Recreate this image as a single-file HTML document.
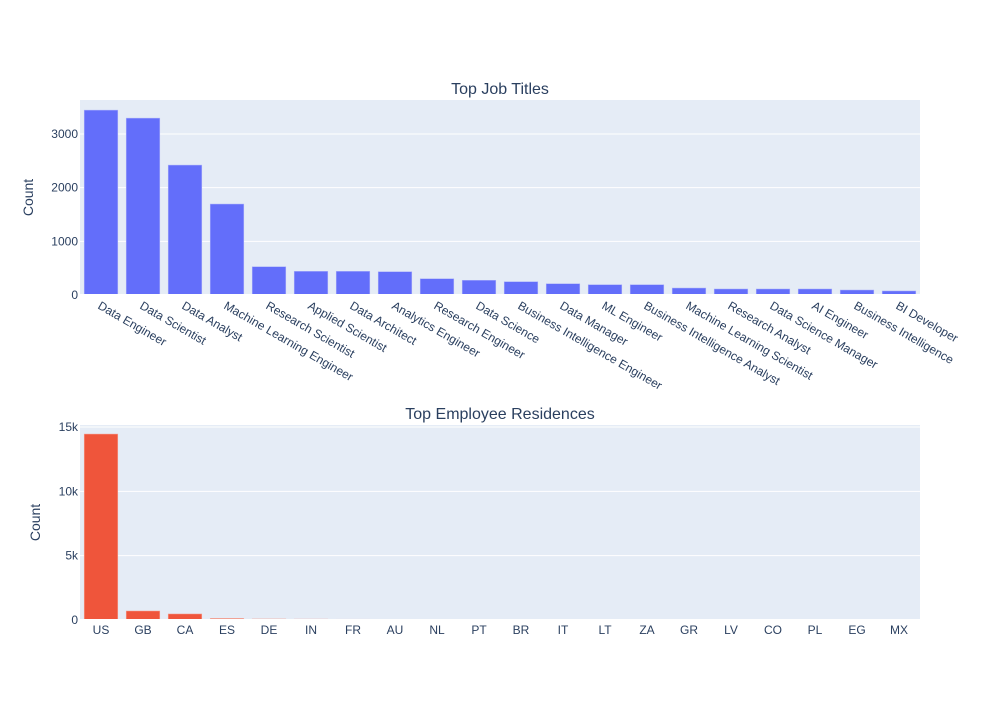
<!DOCTYPE html>
<html><head><meta charset="utf-8"><style>
body{margin:0;background:#fff;font-family:"Liberation Sans",Arial,sans-serif}
svg text{font-family:"Liberation Sans",Arial,sans-serif}
</style></head><body>
<svg id="c" width="1000" height="700" xmlns="http://www.w3.org/2000/svg"></svg>
<script>
const jobTitles=["Data Engineer","Data Scientist","Data Analyst","Machine Learning Engineer","Research Scientist","Applied Scientist","Data Architect","Analytics Engineer","Research Engineer","Data Science","Business Intelligence Engineer","Data Manager","ML Engineer","Business Intelligence Analyst","Machine Learning Scientist","Research Analyst","Data Science Manager","AI Engineer","Business Intelligence","BI Developer"];
const jobCounts=[3445,3296,2421,1695,527,441,441,434,303,274,248,210,192,192,130,112,112,112,93,75];
const jobTicks=[0,1000,2000,3000];
const countries=["US","GB","CA","ES","DE","IN","FR","AU","NL","PT","BR","IT","LT","ZA","GR","LV","CO","PL","EG","MX"];
const countryCounts=[14453,700,470,117,80,70,60,55,50,45,40,35,30,28,25,22,20,18,15,12];
const countryTicks=[0,5000,10000,15000];
const countryTickLabels=["0","5k","10k","15k"];

const svg=document.getElementById('c');
const NS="http://www.w3.org/2000/svg";
function mk(tag,attrs,parent){const e=document.createElementNS(NS,tag);for(const k in attrs)e.setAttribute(k,attrs[k]);(parent||svg).appendChild(e);return e;}

function panel(o){
  const g=mk('g',{});
  
  
  const bg=mk('rect',{x:o.x0,y:o.y0,width:o.x1-o.x0,height:o.y1-o.y0,fill:'#e5ecf6'},g);
  
  
  const yS=v=>o.yZero-(v/o.yMax)*(o.yZero-o.yTop);
  o.ticks.forEach((t,i)=>{
    const y=yS(t);
    if(t>0){const l=mk('line',{x1:o.x0,x2:o.x1,y1:y,y2:y,stroke:'#fff','stroke-width':1},g);
      
      }
    const tx=mk('text',{x:o.x0-2,y:y+4,'text-anchor':'end','font-size':12,fill:'#2a3f5f'},g);
    tx.textContent=o.tickLabels[i];
    
    
  });
  const slot=(o.x1-o.x0)/o.cats.length;
  o.vals.forEach((v,i)=>{
    const x=o.x0+slot*i+slot*0.1;
    const y=yS(v);
    const r=mk('rect',{x:x,y:y,width:slot*0.8,height:Math.max(0,o.yZero-y),fill:o.color,stroke:o.stroke,'stroke-width':0.5},g);
    
    
    const cx=o.x0+slot*(i+0.5);
    const lab=mk('text',{'font-size':12,fill:'#2a3f5f'},g);
    lab.textContent=o.cats[i];
    if(o.rotate){lab.setAttribute('transform','translate('+(cx-4)+','+(o.yZero+13)+') rotate(30)');}
    else{lab.setAttribute('x',cx);lab.setAttribute('y',o.yZero+14);lab.setAttribute('text-anchor','middle');}
    
    
  });
  const zl=mk('line',{x1:o.x0,x2:o.x1,y1:o.yZero,y2:o.yZero,stroke:'#fff','stroke-width':2},g);
  
  
  const ti=mk('text',{x:(o.x0+o.x1)/2,y:o.y0-6,'text-anchor':'middle','font-size':16,fill:'#2a3f5f'},g);
  ti.textContent=o.title;
  
  
  const yt=mk('text',{'text-anchor':'middle','font-size':14,fill:'#2a3f5f',transform:'translate('+o.yTitleX+','+((o.y0+o.y1)/2)+') rotate(-90)'},g);
  yt.textContent='Count';
  
  
}
panel({name:'top-job-titles-chart',x0:80,x1:920,y0:100,y1:295,yZero:295,yTop:134,yMax:3000,ticks:jobTicks,tickLabels:jobTicks.map(String),cats:jobTitles,vals:jobCounts,color:'#636efa',stroke:'#aab0fb',rotate:true,title:'Top Job Titles',yTitleX:33});
panel({name:'top-residences-chart',x0:80,x1:920,y0:425,y1:620,yZero:620,yTop:427,yMax:15000,ticks:countryTicks,tickLabels:countryTickLabels,cats:countries,vals:countryCounts,color:'#ef553b',stroke:'#f6a597',rotate:false,title:'Top Employee Residences',yTitleX:40});
</script>
</body></html>
